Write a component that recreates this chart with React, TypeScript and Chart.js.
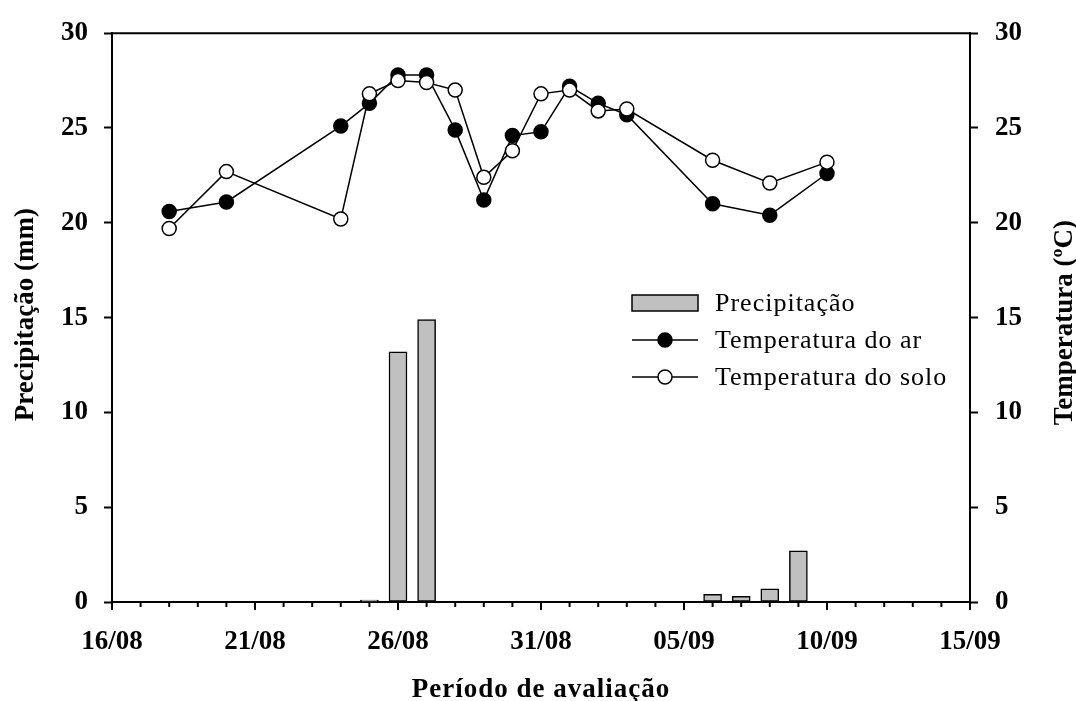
import React, { useEffect, useRef } from "react";
import { Chart, registerables } from "chart.js";

Chart.register(...registerables);

// ---- data ----
const tickLabels = ["16/08", "21/08", "26/08", "31/08", "05/09", "10/09", "15/09"];
// day index counted from 16/08
const tempDays = [2, 4, 8, 9, 10, 11, 12, 13, 14, 15, 16, 17, 18, 21, 23, 25];
const airTemp = [20.6, 21.1, 25.1, 26.3, 27.8, 27.8, 24.9, 21.2, 24.6, 24.8, 27.2, 26.3, 25.7, 21.0, 20.4, 22.6];
const soilTemp = [19.7, 22.7, 20.2, 26.8, 27.5, 27.4, 27.0, 22.4, 23.8, 26.8, 27.0, 25.9, 26.0, 23.3, 22.1, 23.2];
const rainDays = [9, 10, 11, 21, 22, 23, 24];
const rain = [0.1, 13.2, 14.9, 0.4, 0.3, 0.7, 2.7];

const seriesNames = ["Precipitação", "Temperatura do ar", "Temperatura do solo"];
const xTitle = "Período de avaliação";
const yLeftTitle = "Precipitação (mm)";
const yRightTitle = "Temperatura (ºC)";

const FONT = '"Liberation Serif", "Times New Roman", Times, serif';

const decorPlugin = {
  id: "decor",
  afterDraw(chart: any) {
    const { ctx, chartArea, scales } = chart;
    const { left, right, top, bottom } = chartArea;
    ctx.save();
    ctx.strokeStyle = "#000";
    ctx.lineWidth = 2;
    // top frame
    ctx.beginPath();
    ctx.moveTo(left - 1, top);
    ctx.lineTo(right + 1, top);
    ctx.stroke();
    // x ticks (major every 5 days, minor every day)
    const xs = scales.x;
    ctx.beginPath();
    for (let v = xs.min; v <= xs.max; v++) {
      const px = xs.getPixelForValue(v);
      const len = v % 5 === 0 ? 8 : 5;
      ctx.moveTo(px, bottom);
      ctx.lineTo(px, bottom + len);
    }
    ctx.stroke();

    // axis titles
    ctx.fillStyle = "#000";
    ctx.font = `bold 27px ${FONT}`;
    ctx.textAlign = "center";
    ctx.textBaseline = "alphabetic";
    (ctx as any).letterSpacing = "1px";
    ctx.fillText(xTitle, (left + right) / 2, 697);
    (ctx as any).letterSpacing = "0px";
    ctx.save();
    ctx.translate(33, (top + bottom) / 2 - 3);
    ctx.rotate(-Math.PI / 2);
    ctx.fillText(yLeftTitle, 0, 0);
    ctx.restore();
    ctx.save();
    ctx.translate(1072, (top + bottom) / 2 + 5);
    ctx.rotate(-Math.PI / 2);
    ctx.fillText(yRightTitle, 0, 0);
    ctx.restore();

    // legend
    const lx0 = 632, lx1 = 698, tx = 715;
    const rows = [303, 340, 377];
    ctx.font = `26px ${FONT}`;
    ctx.textAlign = "left";
    (ctx as any).letterSpacing = "1px";
    // bar entry
    ctx.fillStyle = "#c0c0c0";
    ctx.fillRect(lx0, rows[0] - 8, lx1 - lx0, 16);
    ctx.lineWidth = 1.5;
    ctx.strokeRect(lx0, rows[0] - 8, lx1 - lx0, 16);
    ctx.fillStyle = "#000";
    ctx.fillText(seriesNames[0], tx, rows[0] + 8);
    // line entries
    [1, 2].forEach((i) => {
      const y = rows[i];
      ctx.beginPath();
      ctx.moveTo(lx0, y);
      ctx.lineTo(lx1, y);
      ctx.lineWidth = 1.5;
      ctx.stroke();
      ctx.beginPath();
      ctx.arc((lx0 + lx1) / 2, y, 7, 0, Math.PI * 2);
      ctx.fillStyle = i === 1 ? "#000" : "#fff";
      ctx.fill();
      ctx.stroke();
      ctx.fillStyle = "#000";
      ctx.fillText(seriesNames[i], tx, y + 8);
    });
    ctx.restore();
  },
};

export default function App() {
  const ref = useRef<HTMLCanvasElement>(null);
  useEffect(() => {
    if (!ref.current) return;
    Chart.defaults.font.family = FONT;
    const chart = new Chart(ref.current, {
      type: "bar",
      data: {
        datasets: [
          {
            type: "line",
            label: seriesNames[2],
            data: tempDays.map((d, i) => ({ x: d, y: soilTemp[i] })),
            yAxisID: "y1",
            borderColor: "#000",
            borderWidth: 1.5,
            pointRadius: 7,
            pointBackgroundColor: "#fff",
            pointBorderColor: "#000",
            pointBorderWidth: 1.5,
            tension: 0,
            order: 0,
          } as any,
          {
            type: "line",
            label: seriesNames[1],
            data: tempDays.map((d, i) => ({ x: d, y: airTemp[i] })),
            yAxisID: "y1",
            borderColor: "#000",
            borderWidth: 1.5,
            pointRadius: 7,
            pointBackgroundColor: "#000",
            pointBorderColor: "#000",
            pointBorderWidth: 1.5,
            tension: 0,
            order: 1,
          } as any,
          {
            type: "bar",
            label: seriesNames[0],
            data: rainDays.map((d, i) => ({ x: d, y: rain[i] })),
            yAxisID: "y",
            backgroundColor: "#c0c0c0",
            borderColor: "#000",
            borderWidth: 1.5,
            borderSkipped: false,
            barThickness: 18,
            order: 2,
          } as any,
        ],
      },
      options: {
        animation: false,
        responsive: false,
        layout: { padding: { top: 27, left: 0, right: 0, bottom: 0 } },
        plugins: { legend: { display: false }, tooltip: { enabled: false } },
        scales: {
          x: {
            type: "linear",
            min: 0,
            max: 30,
            offset: false,
            afterFit: (s: any) => {
              s.height = 99;
            },
            border: { display: true, color: "#000", width: 2 },
            grid: { display: true, offset: false, drawOnChartArea: false, drawTicks: false },
            ticks: {
              stepSize: 1,
              autoSkip: false,
              maxRotation: 0,
              padding: 24,
              color: "#000",
              font: { size: 27, weight: "bold", family: FONT },
              callback: (v: any) => (Number(v) % 5 === 0 ? tickLabels[Number(v) / 5] : ""),
            },
          },
          y: {
            type: "linear",
            position: "left",
            min: 0,
            max: 30,
            afterFit: (s: any) => {
              s.width = 112;
            },
            border: { display: true, color: "#000", width: 2 },
            grid: { drawOnChartArea: false, tickLength: 8, tickWidth: 2, tickColor: "#000", color: "#000" },
            ticks: {
              stepSize: 5,
              padding: 16,
              color: "#000",
              font: { size: 27, weight: "bold", family: FONT },
            },
          },
          y1: {
            type: "linear",
            position: "right",
            min: 0,
            max: 30,
            afterFit: (s: any) => {
              s.width = 106;
            },
            border: { display: true, color: "#000", width: 2 },
            grid: { drawOnChartArea: false, tickLength: 8, tickWidth: 2, tickColor: "#000", color: "#000" },
            ticks: {
              stepSize: 5,
              padding: 17,
              color: "#000",
              font: { size: 27, weight: "bold", family: FONT },
            },
          },
        },
      } as any,
      plugins: [decorPlugin],
    });
    return () => chart.destroy();
  }, []);
  return (
    <div style={{ position: "fixed", left: 0, top: 0, width: 1076, height: 701, background: "#fff" }}>
      <canvas ref={ref} width={1076} height={701} />
    </div>
  );
}
